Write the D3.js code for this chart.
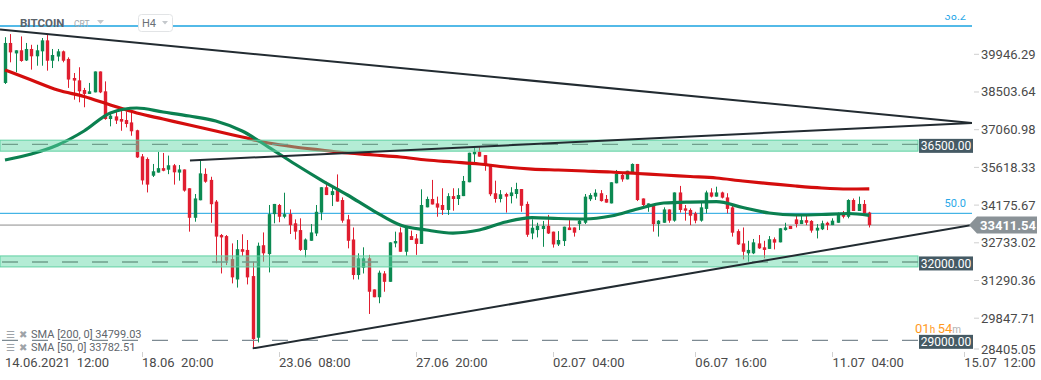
<!DOCTYPE html>
<html><head><meta charset="utf-8">
<script src="https://cdn.jsdelivr.net/npm/d3@7/dist/d3.min.js"></script>
<style>
html,body{margin:0;padding:0;background:#fff;}
svg{display:block;font-family:Roboto,"Noto Sans",sans-serif;}
</style></head>
<body>
<svg id="chart" width="1041" height="380"></svg>
<script>
// ---------- DATA ----------
const candleOpen = [38850,40380,39980,40100,39710,40150,39870,40060,40480,39700,39860,40060,39770,39040,38950,38580,38430,38490,39290,38530,
37470,37570,37470,37430,37340,37040,36040,35940,35300,35420,35590,35530,35700,35420,35540,34820,33690,34360,35370,35140,
34310,33030,32990,32110,31330,32490,32460,31460,29100,32640,32300,33830,34180,33730,33830,33480,33220,32460,32810,33090,
33890,34860,34560,34820,34370,33630,32860,31500,31780,32140,30950,30650,31560,31240,32710,33130,32390,32990,32900,32690,
34090,34410,34240,34180,33990,34520,34410,34520,35050,36120,36220,36090,35710,34630,34410,34600,34520,34600,34790,34220,
33090,33220,33260,33380,33160,32670,32800,33320,33320,33450,33500,34400,34500,34630,34410,34240,35010,35330,35160,35390,
35750,34430,34180,34200,33450,33500,34010,33580,34660,34050,33990,33860,33580,34030,34660,34500,34660,34470,34090,33180,
32710,32330,32330,32710,32560,32500,32870,32750,33220,33380,33630,33450,33600,33570,33200,33250,33500,33410,33500,33830,
33730,34370,33950,34220,33890];
const candleHigh = [40600,40720,40100,40630,40380,40310,40310,40570,40720,40150,40150,40090,39830,39230,39450,38660,38850,39290,39290,38910,
37700,37760,37790,37760,37790,37060,36130,36000,35750,36210,36170,36070,35750,35710,35540,34820,34600,35880,35580,35260,
34370,33070,33030,32710,32840,33060,32840,32010,32740,33130,34180,34220,34220,34650,34010,33630,33670,32900,33450,34180,
34860,35070,34860,35350,34470,33800,33320,32330,32560,32270,30950,31670,31650,32750,33160,33320,33380,33200,33070,34780,
34500,35140,34500,34820,34630,34820,34820,35290,36180,36390,36390,36090,35710,35110,34750,34650,34860,35030,34790,34310,
33630,33500,33570,33800,33160,33180,33350,33600,33320,33670,34600,34630,34780,34750,34560,35050,35520,35420,35490,35770,
35750,34430,34240,34200,33600,34090,34010,34660,34910,34180,34050,33920,34310,34730,34820,34880,34690,34630,34140,33250,
33320,32810,32880,33030,32810,32990,32940,33290,33500,33380,33760,33760,33800,33600,33450,33580,33540,33670,33890,33950,
34400,34430,34500,34370,33920];
const candleLow = [38810,39640,39260,39660,39690,39360,39510,39510,39320,39420,39680,39640,38660,38210,38110,37920,38430,38490,38460,37440,
37190,37280,37020,37150,36830,35980,34960,34660,35250,35420,35470,35360,34960,35110,34690,33160,33540,34360,35030,33500,
31950,31560,31880,31180,31020,32230,31140,28690,28920,32010,31600,33480,33520,33670,33070,32860,32420,32180,32810,32990,
33600,34560,34140,34310,33500,32520,31330,31330,31560,30010,30650,30420,30860,31240,32560,32390,32230,32840,32270,32690,
34090,34200,33730,33800,33800,33960,34180,34520,35050,35800,36030,35490,34520,34270,34280,33890,34240,34430,33920,32960,
32870,32940,32580,33070,32550,32610,32610,33220,32970,33220,33450,34330,34370,34310,34270,34240,35010,35070,35160,35390,
34330,34140,33920,33160,32970,33500,33500,33540,33890,33580,33410,33480,33540,33860,34470,34500,34430,33860,32970,32650,
32100,32010,32300,32500,32140,32500,32480,32750,33200,33260,33320,33450,33410,33120,32900,33220,33220,33410,33500,33670,
33670,33950,33950,33800,33320];
const candleClose = [40380,40020,40100,39690,40150,39870,40100,40480,39700,39920,40060,39700,38980,38940,38530,38430,38530,39290,38490,37470,
37600,37410,37370,37280,37000,36000,35120,34960,35470,35590,35490,35700,35430,35540,34730,33690,34430,35390,35070,34210,
32970,32940,32050,31410,32490,32390,31410,29050,32620,32330,33830,34220,33730,33830,33410,33160,32460,32860,33130,33920,
34860,34560,34710,34310,33580,32810,31500,32140,32140,30860,30650,31590,31240,32750,32800,32390,33380,32840,32690,34180,
34410,34200,34080,33990,34520,34410,34560,35100,36180,36220,36030,35710,34590,34410,34590,34500,34660,34790,34150,33040,
33310,33380,33380,33090,32670,32840,33350,33220,33120,33580,34500,34560,34650,34330,34270,35050,35370,35160,35490,35750,
34370,34180,34240,33450,33580,34010,33580,34660,33990,33960,33770,33580,34090,34660,34500,34660,34460,34030,33120,32670,
32390,32460,32750,32520,32460,32870,32740,33290,33320,33260,33450,33600,33500,33200,33310,33480,33410,33580,33830,33730,
34370,33950,34220,33860,33411.54];

// moving averages read at candle indices
const smaIndex = [0,5,10,15,20,25,30,35,40,45,50,55,60,65,70,75,80,85,90,95,100,105,110,115,120,125,130,135,140,145,150,155,160,164];
const sma200 = [39345,38962,38580,38331,38006,37700,37470,37240,37011,36781,36551,36398,36283,36169,36093,36016,35901,35825,35748,35633,
35556,35518,35480,35442,35384,35327,35270,35212,35097,35001,34906,34829,34791,34799];
const sma50 = [35901,36131,36475,37011,37700,37891,37738,37585,37393,37011,36398,35748,35135,34562,33949,33413,33222,33107,33222,33528,
33700,33662,33643,33758,34026,34255,34293,34305,34083,33873,33796,33815,33854,33783];

// drawn objects: [candle index, price]
const trendUpper = [[-0.95, 40895], [183.5, 37317]];
const trendMid = [[35.1, 35882], [183.5, 37317]];
const trendLower = [[47, 28693], [183.5, 33411.54]];

const zoneLevels = [36500, 32000];
const zoneBounds = [[36240, 36660], [31810, 32230]];
const dashedLevel = 29000;
const fibLevels = [41029, 33861];
const fibNames = ["38.2", "50.0"];
const lastPrice = 33411.54;

const yTickValues = [39946.29, 38503.64, 37060.98, 35618.33, 34175.67, 32733.02, 31290.36, 29847.71, 28405.05];
const xTickLabels = ["14.06.2021  12:00", "18.06  20:00", "23.06  08:00", "27.06  20:00", "02.07  04:00", "06.07  16:00", "11.07  04:00", "15.07  12:00"];
const xTickIndex = [0, 26, 52, 78, 104, 131, 157, 182];

const legendTexts = ["SMA [200, 0] 34799.03", "SMA [50, 0] 33782.51"];

// ---------- LAYOUT ----------
const svg = d3.select("#chart");
const plotRight = 972, plotTop = 15, plotBottom = 352;
const x = d3.scaleLinear().domain([0, 183]).range([5, 5 + 183 * 5.27]);
const y = d3.scaleLinear().domain([28405.05, 39946.29]).range([355.9, 54.3]);

svg.append("rect").attr("width", 1041).attr("height", 380).attr("fill", "#fff");
svg.append("defs").append("clipPath").attr("id", "plotClip")
  .append("rect").attr("x", 0).attr("y", plotTop).attr("width", plotRight).attr("height", plotBottom - plotTop);

const plot = svg.append("g").attr("clip-path", "url(#plotClip)");

// fib / price lines
plot.append("line").attr("x1", 0).attr("x2", plotRight).attr("y1", y(fibLevels[0])).attr("y2", y(fibLevels[0]))
  .attr("stroke", "#1aa3e0").attr("stroke-width", 1.3);
plot.append("text").attr("x", 966).attr("y", y(fibLevels[0]) - 6).attr("text-anchor", "end")
  .attr("font-size", 11).attr("fill", "#29a8e8").text(fibNames[0]);
plot.append("line").attr("x1", 0).attr("x2", plotRight).attr("y1", y(fibLevels[1])).attr("y2", y(fibLevels[1]))
  .attr("stroke", "#1aa3e0").attr("stroke-width", 1);
plot.append("text").attr("x", 966).attr("y", y(fibLevels[1]) - 6).attr("text-anchor", "end")
  .attr("font-size", 11).attr("fill", "#29a8e8").text(fibNames[1]);
plot.append("line").attr("x1", 0).attr("x2", plotRight).attr("y1", y(lastPrice)).attr("y2", y(lastPrice))
  .attr("stroke", "#8c8c8c").attr("stroke-width", 1);

// candles
const idx = d3.range(candleOpen.length);
const green = "#0c8a52", red = "#e01e30";
const cg = plot.append("g");
cg.selectAll("line.wick").data(idx).join("line").attr("class", "wick")
  .attr("x1", i => Math.round(x(i)) + 0.5).attr("x2", i => Math.round(x(i)) + 0.5)
  .attr("y1", i => y(candleHigh[i])).attr("y2", i => y(candleLow[i]))
  .attr("stroke", i => candleClose[i] >= candleOpen[i] ? green : red).attr("stroke-width", 1);
cg.selectAll("rect.body").data(idx).join("rect").attr("class", "body")
  .attr("x", i => Math.round(x(i)) - 1.2).attr("width", 3.4)
  .attr("y", i => y(Math.max(candleOpen[i], candleClose[i])))
  .attr("height", i => Math.max(1, Math.abs(y(candleOpen[i]) - y(candleClose[i]))))
  .attr("fill", i => candleClose[i] >= candleOpen[i] ? green : red);

// SMAs
const smaLine = arr => d3.line().x((d, k) => x(smaIndex[k])).y(d => y(d)).curve(d3.curveMonotoneX)(arr);
plot.append("path").attr("d", smaLine(sma200)).attr("fill", "none").attr("stroke", "#d40d0d").attr("stroke-width", 3.2);
plot.append("path").attr("d", smaLine(sma50)).attr("fill", "none").attr("stroke", "#0b8050").attr("stroke-width", 3.2);

// zones
const zoneRight = 918;
zoneBounds.forEach((b, k) => {
  plot.append("rect").attr("x", 0).attr("width", zoneRight).attr("y", y(b[1])).attr("height", y(b[0]) - y(b[1]))
    .attr("fill", "rgba(95,214,165,0.47)").attr("stroke", "#5fd1a3").attr("stroke-width", 1);
  plot.append("line").attr("x1", 2).attr("x2", zoneRight).attr("y1", y(zoneLevels[k])).attr("y2", y(zoneLevels[k]))
    .attr("stroke", "#6f9f8c").attr("stroke-width", 1.4).attr("stroke-dasharray", "16,14");
});
plot.append("line").attr("x1", 2).attr("x2", zoneRight).attr("y1", y(dashedLevel)).attr("y2", y(dashedLevel))
  .attr("stroke", "#7d8a92").attr("stroke-width", 1.4).attr("stroke-dasharray", "16,14");

// trend lines
[trendUpper, trendMid, trendLower].forEach(t => {
  plot.append("line").attr("x1", x(t[0][0])).attr("y1", y(t[0][1])).attr("x2", x(t[1][0])).attr("y2", y(t[1][1]))
    .attr("stroke", "#222b31").attr("stroke-width", 2);
});

// countdown text (sits just above the 29000 label)
const cd = svg.append("text").attr("x", 915).attr("y", 333).attr("font-size", 13).attr("fill", "#ff9a1f");
cd.append("tspan").text("01");
cd.append("tspan").attr("font-size", 10).text("h ");
cd.append("tspan").text("54");
cd.append("tspan").attr("font-size", 10).attr("fill", "#b0b0b0").text("m");

// level label boxes
[...zoneLevels, dashedLevel].forEach(v => {
  const cy = y(v) + 1.5;
  svg.append("rect").attr("x", 919).attr("y", cy - 7).attr("width", 54).attr("height", 14).attr("fill", "#455a64");
  svg.append("text").attr("x", 946).attr("y", cy + 4.3).attr("text-anchor", "middle").attr("font-size", 12)
    .attr("fill", "#fff").text(d3.format(".2f")(v));
});

// y axis
const yAx = svg.append("g");
yTickValues.forEach(v => {
  const ty = y(v);
  const ly = Math.min(ty, 349);
  yAx.append("line").attr("x1", 974).attr("x2", 979).attr("y1", ly).attr("y2", ly).attr("stroke", "#cfcfcf");
  yAx.append("text").attr("x", 981).attr("y", ly + 4.5).attr("font-size", 13).attr("fill", "#4a4a4a")
    .text(d3.format(".2f")(v));
});

// last price tag
const lp = y(lastPrice);
svg.append("path").attr("d", `M969,${lp} L977,${lp - 8.5} L1037,${lp - 8.5} L1037,${lp + 8.5} L977,${lp + 8.5} Z`)
  .attr("fill", "#8a9297");
svg.append("text").attr("x", 980).attr("y", lp + 5).attr("font-size", 13).attr("font-weight", "bold")
  .attr("fill", "#fff").text(d3.format(".2f")(lastPrice));

// x axis
const xAx = svg.append("g");
xTickIndex.forEach((ix, k) => {
  const tx = Math.round(x(ix)) + 0.5;
  if (k > 0) xAx.append("line").attr("x1", tx).attr("x2", tx).attr("y1", 352).attr("y2", 357).attr("stroke", "#d0d0d0");
  xAx.append("text").attr("x", x(ix)).attr("y", 367).attr("font-size", 13).attr("fill", "#4a4a4a")
    .style("white-space", "pre").text(xTickLabels[k]);
});

// header
svg.append("text").attr("x", 20).attr("y", 27).attr("font-size", 11.5).attr("font-weight", "bold")
  .attr("fill", "#5b636b").text("BITCOIN");
svg.append("text").attr("x", 74).attr("y", 27).attr("font-size", 8.5).attr("fill", "#a0a6ab").text("CRT");
svg.append("path").attr("d", "M97,20 L104,20 L100.5,24 Z").attr("fill", "#c4c8cc");
svg.append("rect").attr("x", 138.5).attr("y", 14.5).attr("width", 34).attr("height", 17).attr("rx", 3)
  .attr("fill", "#fff").attr("stroke", "#e2e4e6");
svg.append("text").attr("x", 142).attr("y", 27).attr("font-size", 11).attr("fill", "#6a7076").text("H4");
svg.append("path").attr("d", "M162,21 L168,21 L165,24.5 Z").attr("fill", "#c4c8cc");

// SMA legend
legendTexts.forEach((t, k) => {
  const ly = 338 + k * 13;
  svg.append("text").attr("x", 6).attr("y", ly).attr("font-size", 10).attr("fill", "#9ea3a8").text("☰");
  svg.append("text").attr("x", 19).attr("y", ly).attr("font-size", 10).attr("fill", "#9ea3a8").text("✖");
  svg.append("text").attr("x", 31).attr("y", ly).attr("font-size", 11).attr("fill", "#5f666c")
    .style("white-space", "pre").text(t);
});
</script>
</body></html>
